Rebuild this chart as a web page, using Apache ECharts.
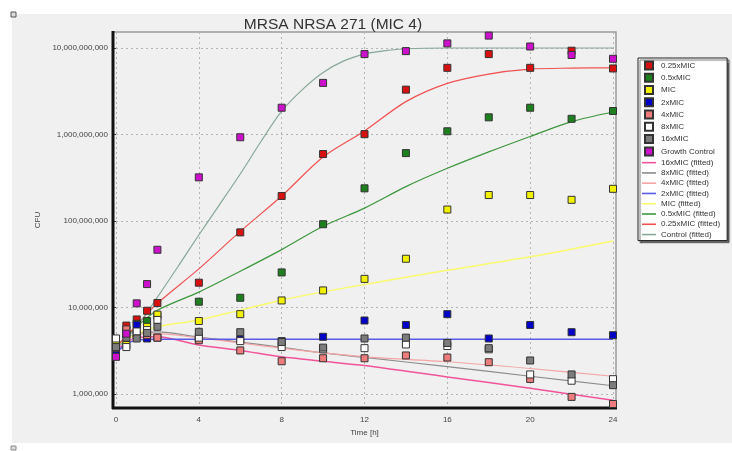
<!DOCTYPE html>
<html><head><meta charset="utf-8">
<script src="https://cdn.jsdelivr.net/npm/echarts@6/dist/echarts.min.js"></script>
<style>html,body{margin:0;padding:0;background:#fff}#c{width:732px;height:451px}</style>
</head><body><div id="c"></div>
<script>
const chartTitle = 'MRSA NRSA 271 (MIC 4)';
const times = [0, 0.5, 1, 1.5, 2, 4, 6, 8, 10, 12, 14, 16, 18, 20, 22, 24];
const mic025 = [3.5e6, 6.2e6, 7.3e6, 9.2e6, 1.13e7, 1.94e7, 7.4e7, 1.95e8, 5.95e8, 1.01e9, 3.3e9, 5.9e9, 8.5e9, 5.9e9, 9.3e9, 5.8e9];
const mic05 = [3.6e6, 5.5e6, 6.5e6, 7.0e6, 8.0e6, 1.17e7, 1.3e7, 2.55e7, 9.2e7, 2.39e8, 6.1e8, 1.09e9, 1.58e9, 2.04e9, 1.52e9, 1.87e9];
const mic1 = [4.0e6, 3.7e6, 5.0e6, 6.0e6, 8.3e6, 7.0e6, 8.4e6, 1.21e7, 1.58e7, 2.15e7, 3.67e7, 1.36e8, 2.0e8, 2.0e8, 1.76e8, 2.36e8];
const mic2 = [3.0e6, 4.9e6, 6.3e6, 4.4e6, 4.5e6, 4.4e6, 4.3e6, 4.1e6, 4.6e6, 7.1e6, 6.3e6, 8.4e6, 4.4e6, 6.3e6, 5.2e6, 4.8e6];
const mic4 = [3.4e6, 5.6e6, 4.8e6, 4.8e6, 4.5e6, 4.2e6, 3.2e6, 2.4e6, 2.6e6, 2.6e6, 2.8e6, 2.65e6, 2.34e6, 1.5e6, 9.3e5, 7.7e5];
const mic8 = [4.4e6, 3.5e6, 5.3e6, 5.5e6, 7.2e6, 4.5e6, 4.1e6, 3.5e6, 3.3e6, 3.4e6, 3.75e6, 3.6e6, 3.3e6, 1.69e6, 1.43e6, 1.49e6];
const mic16 = [3.5e6, 4.5e6, 4.4e6, 5.1e6, 6.0e6, 5.25e6, 5.2e6, 4.0e6, 3.45e6, 4.4e6, 4.5e6, 3.9e6, 3.4e6, 2.45e6, 1.69e6, 1.27e6];
const growth = [2.7e6, 5.0e6, 1.12e7, 1.87e7, 4.66e7, 3.2e8, 9.3e8, 2.04e9, 3.95e9, 8.5e9, 9.2e9, 1.13e10, 1.39e10, 1.04e10, 8.3e9, 7.5e9];

const fitTimesGC = [0, 1, 2, 3, 4, 5, 6, 7, 8, 9, 10, 11, 12, 13, 14, 16, 18, 20, 22, 24];
const fitGC = [3.3e6, 6.0e6, 1.32e7, 3.0e7, 6.9e7, 1.55e8, 3.5e8, 8.3e8, 1.86e9, 3.3e9, 5.2e9, 7.1e9, 8.5e9, 9.3e9, 9.8e9, 1.0e10, 1.0e10, 1.0e10, 1.0e10, 1.0e10];
const fitTimesA = [0, 1, 2, 4, 6, 8, 10, 12, 14, 16, 18, 20, 22, 24];
const fit025 = [3.5e6, 6.3e6, 1.12e7, 2.8e7, 7.6e7, 1.95e8, 5.5e8, 1.1e9, 2.4e9, 3.9e9, 5.0e9, 5.7e9, 5.85e9, 5.9e9];
const fit05 = [3.5e6, 6.0e6, 9.3e6, 1.51e7, 2.63e7, 4.68e7, 8.7e7, 1.41e8, 2.5e8, 4.07e8, 6.3e8, 9.5e8, 1.41e9, 1.82e9];
const fitTimesB = [0, 1, 2, 4, 6, 8, 10, 12, 16, 20, 24];
const fit1 = [3.55e6, 5.0e6, 6.0e6, 7.2e6, 9.35e6, 1.22e7, 1.52e7, 1.85e7, 2.7e7, 3.86e7, 5.9e7];
const fit4 = [3.55e6, 4.8e6, 5.0e6, 4.47e6, 3.9e6, 3.4e6, 3.0e6, 2.7e6, 2.37e6, 1.98e6, 1.61e6];
const fit8 = [3.55e6, 5.0e6, 5.25e6, 4.57e6, 4.0e6, 3.47e6, 3.0e6, 2.66e6, 2.08e6, 1.61e6, 1.25e6];
const fit16 = [3.2e6, 4.5e6, 4.6e6, 3.7e6, 3.2e6, 2.7e6, 2.4e6, 2.14e6, 1.58e6, 1.17e6, 8.5e5];
const fitTimesC = [0, 0.5, 1, 2, 24];
const fit2 = [3.0e6, 3.8e6, 4.2e6, 4.3e6, 4.3e6];

const xTicks = [0, 4, 8, 12, 16, 20, 24];
const yTicks = [1e6, 1e7, 1e8, 1e9, 1e10];

const pts = (xs, ys) => xs.map((x, i) => [x, ys[i]]);
const fmt = v => { const s = Math.round(v).toString(); return s.replace(/\B(?=(\d{3})+(?!\d))/g, ','); };

const scatterDefs = [
  ['0.25xMIC', mic025, '#d81010'],
  ['0.5xMIC', mic05, '#1e7f1e'],
  ['MIC', mic1, '#f2f200'],
  ['2xMIC', mic2, '#0000c8'],
  ['4xMIC', mic4, '#ee7c7c'],
  ['8xMIC', mic8, '#ffffff'],
  ['16xMIC', mic16, '#7c7c7c'],
  ['Growth Control', growth, '#cc10cc']
];
const lineDefs = [
  ['16xMIC (fitted)', fitTimesB, fit16, '#f0559a', 1.5],
  ['8xMIC (fitted)', fitTimesB, fit8, '#8c8c8c', 1.2],
  ['4xMIC (fitted)', fitTimesB, fit4, '#f4a4a4', 1.2],
  ['2xMIC (fitted)', fitTimesC, fit2, '#5a5ae6', 1.5],
  ['MIC (fitted)', fitTimesB, fit1, '#fafa6e', 1.5],
  ['0.5xMIC (fitted)', fitTimesA, fit05, '#3c963c', 1.2],
  ['0.25xMIC (fitted)', fitTimesA, fit025, '#f05252', 1.2],
  ['Control (fitted)', fitTimesGC, fitGC, '#88a898', 1.2]
];

const series = [];
lineDefs.forEach(([name, xs, ys, color, w]) => series.push({
  name, type: 'line', data: pts(xs, ys), symbol: 'none', showSymbol: false, smooth: 0.3,
  lineStyle: { color, width: w }, itemStyle: { color }, z: 2, clip: false
}));
scatterDefs.forEach(([name, ys, color]) => series.push({
  name, type: 'scatter', data: pts(times, ys), symbol: 'rect', symbolSize: 7,
  itemStyle: { color, borderColor: '#333', borderWidth: 1, opacity: 1 }, z: 3, clip: false
}));

const sq = 'path://M0,0H1V1H0Z';
const ln = 'path://M0,0H14V1.6H0Z';
const legendData = scatterDefs.map(d => ({ name: d[0], icon: sq }))
  .concat(lineDefs.map(d => ({ name: d[0], icon: ln, itemStyle: { color: d[3], borderWidth: 0 } })));

const chart = echarts.init(document.getElementById('c'), null, { renderer: 'canvas' });
chart.setOption({
  animation: false,
  backgroundColor: '#ffffff',
  textStyle: { fontFamily: 'Liberation Sans, Arial, sans-serif' },
  title: {
    text: chartTitle, left: 328, top: 12, textAlign: 'center',
    textStyle: { fontSize: 15.5, fontWeight: 'normal', color: '#333', fontFamily: 'Liberation Sans, Arial, sans-serif' }
  },
  graphic: [
    { type: 'rect', shape: { x: 12, y: 14, width: 720, height: 429 }, style: { fill: '#f0f0f0' }, z: -20, silent: true },
    { type: 'rect', shape: { x: 11, y: 12, width: 5, height: 5 }, style: { fill: '#ddd', stroke: '#555', lineWidth: 1 }, z: -5 },
    { type: 'rect', shape: { x: 11, y: 446, width: 5, height: 4 }, style: { fill: '#ddd', stroke: '#888', lineWidth: 1 }, z: -5 },
    { type: 'rect', shape: { x: 113, y: 32, width: 503, height: 376 }, style: { fill: '#f0f0f0', stroke: '#9a9a9a', lineWidth: 1.5 }, z: -10, silent: true },
    { type: 'line', shape: { x1: 113, y1: 31, x2: 113, y2: 409 }, style: { stroke: '#111', lineWidth: 3 }, z: 1 },
    { type: 'line', shape: { x1: 112, y1: 408, x2: 617, y2: 408 }, style: { stroke: '#111', lineWidth: 3 }, z: 1 }
  ],
  grid: { left: 116, right: 119, top: 32, bottom: 43, containLabel: false },
  xAxis: {
    type: 'value', min: 0, max: 24, interval: 4,
    name: 'Time [h]', nameLocation: 'middle', nameGap: 17,
    nameTextStyle: { fontSize: 8, color: '#444' },
    axisLine: { show: false },
    axisTick: { show: false },
    axisLabel: { fontSize: 8, color: '#444', margin: 8, formatter: v => String(v) },
    splitLine: { show: true, lineStyle: { color: '#b4b4b4', type: [2, 3], width: 1 } }
  },
  yAxis: {
    type: 'log', logBase: 10, min: 692000, max: 1.53e10, offset: 3,
    name: 'CFU', nameLocation: 'middle', nameGap: 70, nameRotate: 90,
    nameTextStyle: { fontSize: 8, color: '#444' },
    axisLine: { show: false },
    axisTick: { show: true, customValues: yTicks, length: 4, lineStyle: { color: '#444' } },
    axisLabel: { fontSize: 8, color: '#444', margin: 5, customValues: yTicks, formatter: v => fmt(v) },
    splitLine: { show: true, lineStyle: { color: '#b4b4b4', type: [2, 3], width: 1 } },
    minorSplitLine: { show: false }
  },
  legend: {
    orient: 'vertical', left: 638, top: 58,
    itemWidth: 14, itemHeight: 8, itemGap: 2.27,
    padding: [2.5, 7, 2, 4],
    backgroundColor: '#ffffff', borderColor: '#222', borderWidth: 1,
    shadowColor: 'rgba(0,0,0,0.55)', shadowOffsetX: 2, shadowOffsetY: 2, shadowBlur: 1,
    textStyle: { fontSize: 8, color: '#333', lineHeight: 8 },
    data: legendData,
    selectedMode: false
  },
  series
});
</script></body></html>
